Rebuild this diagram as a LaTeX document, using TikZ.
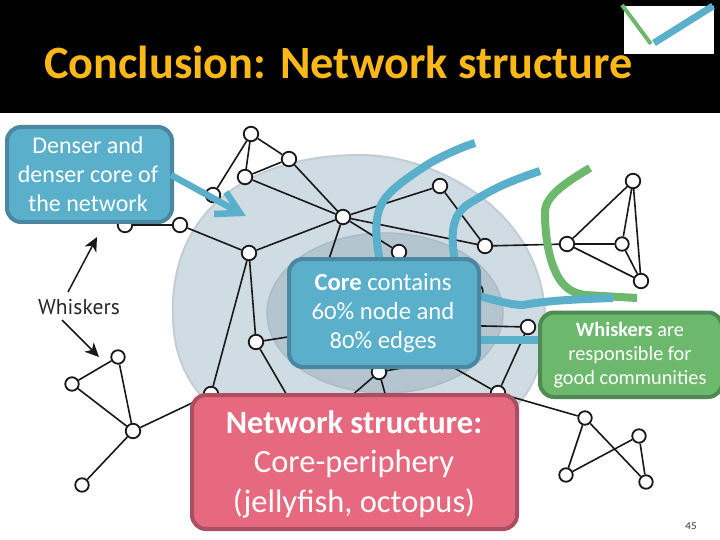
\documentclass[tikz,border=0pt]{standalone}
\usepackage{fontspec}
\setmainfont[Numbers=OldStyle]{Carlito}
\newfontfamily\labelfont{PT Sans}
\usetikzlibrary{arrows.meta}
\pgfdeclarelayer{shade}\pgfdeclarelayer{edgelayer}\pgfdeclarelayer{top}
\pgfsetlayers{shade,edgelayer,main,top}
\definecolor{capyellow}{HTML}{FCB816}
\definecolor{bluefill}{HTML}{5AAFCB}
\definecolor{blueedge}{HTML}{4A87A0}
\definecolor{greenfill}{HTML}{6CB86C}
\definecolor{greenedge}{HTML}{4F8A55}
\definecolor{redfill}{HTML}{E6697F}
\definecolor{rededge}{HTML}{AB4E60}
\definecolor{outerfill}{HTML}{D0DCE4}
\definecolor{outeredge}{HTML}{C5CCD2}
\definecolor{innerfill}{HTML}{B5C5D0}
\definecolor{inneredge}{HTML}{ABBBC7}
\tikzset{
  x=1pt,y=-1pt,
  netnode/.style={circle,draw=black!90,fill=white,line width=1.8pt,minimum size=14.5pt,inner sep=0pt},
  smallnode/.style={netnode,minimum size=13.5pt},
  netedge/.style={draw=black!90,line width=1.6pt},
  callout/.style={rounded corners=14pt,line width=4pt,align=center,text=white,inner sep=0pt,anchor=north west},
  bluecall/.style={callout,draw=blueedge,fill=bluefill},
  greencall/.style={callout,draw=greenedge,fill=greenfill},
  redcall/.style={callout,draw=rededge,fill=redfill},
  bluecurve/.style={draw=bluefill,line width=8pt,line join=round},
  greencurve/.style={draw=greenfill,line width=8pt,line join=round},
  blackarrow/.style={draw=black!90,line width=1.5pt,-{Stealth[length=14pt,width=13pt,inset=4pt]}},
}
\begin{document}
\begin{tikzpicture}
\useasboundingbox (0,0) rectangle (720,540);
\begin{pgfonlayer}{shade}
\fill[white] (0,0) rectangle (720,540);
\fill[black] (0,0) rectangle (720,113);
\node[text=capyellow,anchor=base west,inner sep=0pt,font=\fontsize{46.3}{46.3}\selectfont\bfseries] (title) at (44,78.5) {Conclusion: Network structure};
\fill[white] (624,6) rectangle (714,54);
\draw[greenfill,line width=4pt] (622,5) -- (651,44);
\draw[bluefill,line width=7pt] (654,43) -- (713,6);
\draw[fill=outerfill,draw=outeredge,line width=2pt] (360,155) .. controls (440,155) and (545,215) .. (545,320) .. controls (545,390) and (515,450) .. (360,450) .. controls (240,450) and (173,400) .. (173,315) .. controls (170,210) and (250,155) .. (360,155) -- cycle;
\draw[fill=innerfill,draw=inneredge,line width=1.5pt] (385,313) ellipse [x radius=118,y radius=80];
\end{pgfonlayer}
% network nodes
\node[netnode] (a) at (251,134) {};
\node[netnode] (b) at (289,159) {};
\node[netnode] (c) at (245,177) {};
\node[netnode] (d) at (213,195) {};
\node[netnode] (e) at (125,225) {};
\node[netnode] (f) at (180,225) {};
\node[netnode] (g) at (249,253) {};
\node[netnode] (h) at (343,217) {};
\node[netnode] (i) at (440,186) {};
\node[netnode] (j) at (485,246) {};
\node[netnode] (k) at (567,244) {};
\node[netnode] (l) at (633,181) {};
\node[smallnode] (m) at (622,244) {};
\node[netnode] (n) at (641,281) {};
\node[netnode] (o) at (399,252) {};
\node[smallnode] (p) at (476,291) {};
\node[netnode] (q) at (528,327) {};
\node[smallnode] (r) at (118,357) {};
\node[smallnode] (s) at (72,384) {};
\node[netnode] (t) at (133,431) {};
\node[smallnode] (u) at (82,485) {};
\node[netnode] (v) at (211,394) {};
\node[netnode] (w) at (256,342) {};
\node[netnode] (x) at (379,372) {};
\node[netnode] (y) at (498,393) {};
\node[smallnode] (z) at (585,418) {};
\node[smallnode] (aa) at (639,436) {};
\node[smallnode] (ab) at (566,475) {};
\node[smallnode] (ac) at (646,482) {};
\node[netnode] (ad) at (442,361) {};
\coordinate (e1) at (327,265);
\coordinate (e2) at (300,335);
\coordinate (e3) at (288,397);
\coordinate (e4) at (350,397);
\coordinate (e5) at (386,397);
\coordinate (e6) at (440,325);
\begin{pgfonlayer}{edgelayer}
\path[netedge] (a)--(b) (a)--(c) (c)--(b) (a)--(d) (c)--(h) (b)--(h) (e)--(f) (f)--(g) (g)--(h)
 (h)--(j) (h)--(i) (i)--(j) (h)--(o) (h)--(e1) (j)--(k) (k)--(l) (k)--(m) (k)--(n) (l)--(m) (l)--(n) (m)--(n)
 (g)--(v) (g)--(w) (w)--(e3) (w)--(e2) (v)--(t) (t)--(r) (t)--(s) (s)--(r) (t)--(u)
 (y)--(z) (y)--(q) (y)--(ad) (x)--(ad) (x)--(e4) (x)--(e5) (z)--(ab) (z)--(ac) (aa)--(ac) (aa)--(ab) (q)--(e6);
\end{pgfonlayer}
% whisker labels and arrows
\node[font=\labelfont\fontsize{21.5}{21.5}\selectfont,text=black!85,inner sep=0pt] (whisk) at (79,307) {Whiskers};
\coordinate (w1) at (68,292);
\coordinate (w2) at (97,237);
\coordinate (w3) at (62,320);
\coordinate (w4) at (99,357);
\draw[blackarrow] (w1) -- (w2);
\draw[blackarrow] (w3) -- (w4);
\begin{pgfonlayer}{top}
\coordinate (c1s) at (380,262);
\coordinate (c2s) at (455,262);
\draw[bluecurve] (475,143) .. controls (465,146) and (448,153) .. (430,163) .. controls (410,176) and (392,188) .. (384,200) .. controls (374,215) and (375,235) .. (c1s);
\draw[bluecurve] (540,171) .. controls (525,176) and (512,181) .. (503,185) .. controls (490,191) and (480,197) .. (470,203) .. controls (452,214) and (450,232) .. (c2s);
\draw[greencurve] (590,168) .. controls (570,180) and (545,195) .. (545,212) .. controls (545,240) and (550,265) .. (560,280) .. controls (566,288) and (572,293) .. (585,295) -- (637,298);
\draw[bluecurve] (475,295) .. controls (495,300) and (510,305) .. (523,305) .. controls (550,300) and (585,299) .. (613,298);
\draw[bluecurve,line width=8.5pt] (475,340) -- (542,340);
\node[bluecall,minimum width=165pt,minimum height=95pt] (dense) at (5,125) {};
\node[text=white,align=center,inner sep=0pt,font=\fontsize{24}{29}\selectfont] (densetext) at (88,174.5) {Denser and\\denser core of\\the network};
\coordinate (ah) at (240,213);
\draw[draw=bluefill,line width=6.5pt] (dense.east |- 0,175) ++(-3,0) -- (ah);
\draw[draw=bluefill,line width=6.5pt,line join=miter] (226,192) -- (ah) -- (214,214);
\node[bluecall,minimum width=190pt,minimum height=108pt] (core) at (287,257) {};
\node[text=white,align=center,inner sep=0pt,font=\fontsize{24.7}{29}\selectfont] (coretext) at (383,313) {\textbf{Core} contains\\60\% node and\\80\% edges};
\node[greencall,minimum width=182pt,minimum height=84.5pt] (green) at (538,310.5) {};
\node[text=white,align=center,inner sep=0pt,font=\fontsize{20.3}{24}\selectfont] (greentext) at (630,355) {\textbf{Whiskers} are\\responsible for\\good communities};
\node[redcall,minimum width=325pt,minimum height=134pt] (red) at (190,393) {};
\node[text=white,align=center,inner sep=0pt,font=\fontsize{32.5}{39.5}\selectfont] (redtext) at (354,464) {\textbf{Network structure:}\\Core-periphery\\(jellyfish, octopus)};
\node[text=black!80,inner sep=0pt,font=\fontsize{11}{11}\selectfont] (page) at (691,526) {45};
\end{pgfonlayer}
\end{tikzpicture}
\end{document}
